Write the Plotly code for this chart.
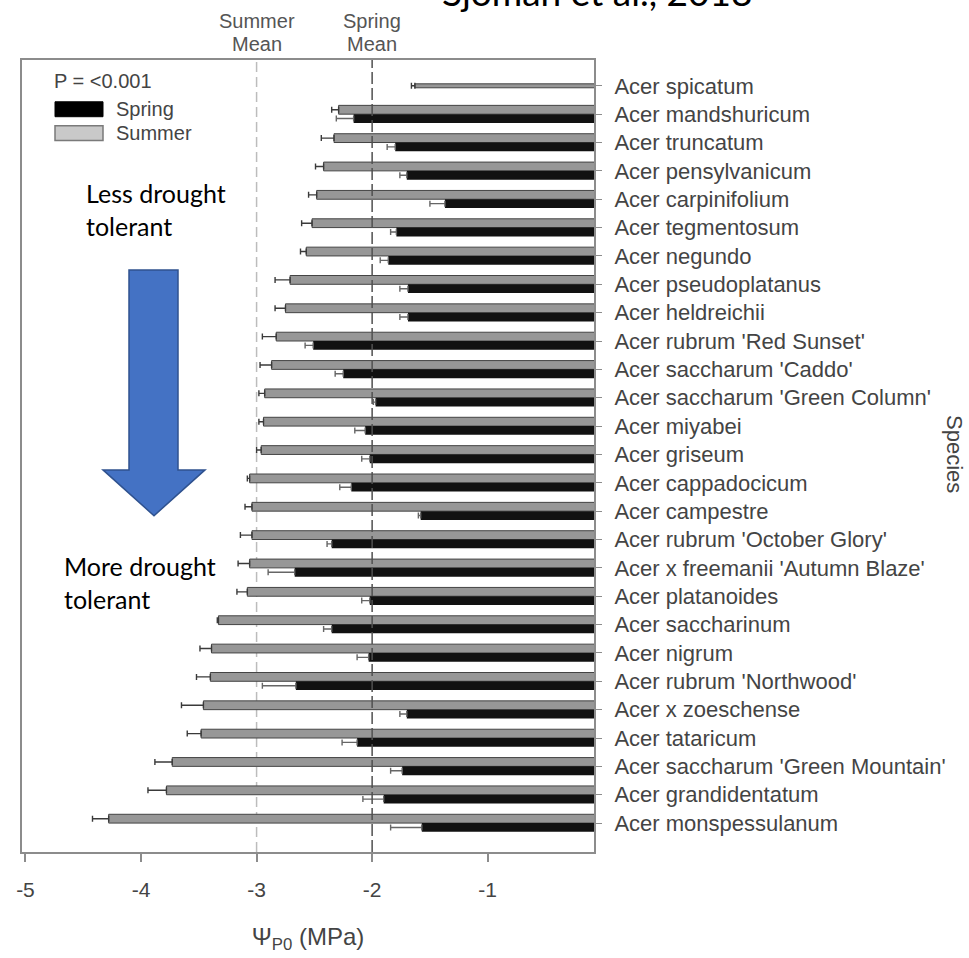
import plotly.graph_objects as go

# Turgor loss point per Acer taxon, spring and summer measurements (MPa)
species = [
    "Acer spicatum",
    "Acer mandshuricum",
    "Acer truncatum",
    "Acer pensylvanicum",
    "Acer carpinifolium",
    "Acer tegmentosum",
    "Acer negundo",
    "Acer pseudoplatanus",
    "Acer heldreichii",
    "Acer rubrum 'Red Sunset'",
    "Acer saccharum 'Caddo'",
    "Acer saccharum 'Green Column'",
    "Acer miyabei",
    "Acer griseum",
    "Acer cappadocicum",
    "Acer campestre",
    "Acer rubrum 'October Glory'",
    "Acer x freemanii 'Autumn Blaze'",
    "Acer platanoides",
    "Acer saccharinum",
    "Acer nigrum",
    "Acer rubrum 'Northwood'",
    "Acer x zoeschense",
    "Acer tataricum",
    "Acer saccharum 'Green Mountain'",
    "Acer grandidentatum",
    "Acer monspessulanum",
]

summer = [-1.63, -2.29, -2.33, -2.42, -2.48, -2.52, -2.57, -2.71, -2.75, -2.83,
          -2.87, -2.93, -2.94, -2.96, -3.06, -3.04, -3.04, -3.06, -3.08, -3.33,
          -3.39, -3.40, -3.46, -3.48, -3.73, -3.78, -4.28]
summer_err = [0.03, 0.06, 0.11, 0.07, 0.07, 0.09, 0.05, 0.13, 0.09, 0.12,
              0.10, 0.05, 0.04, 0.04, 0.02, 0.06, 0.10, 0.10, 0.09, 0.01,
              0.10, 0.12, 0.19, 0.12, 0.15, 0.16, 0.14]

spring = [None, -2.16, -1.80, -1.70, -1.37, -1.79, -1.86, -1.69, -1.69, -2.51,
          -2.25, -1.97, -2.06, -2.02, -2.18, -1.58, -2.35, -2.67, -2.02, -2.35,
          -2.03, -2.66, -1.70, -2.13, -1.74, -1.90, -1.57]
spring_err = [None, 0.15, 0.07, 0.06, 0.13, 0.05, 0.07, 0.07, 0.07, 0.07,
              0.07, 0.02, 0.09, 0.07, 0.10, 0.02, 0.04, 0.23, 0.07, 0.07,
              0.10, 0.29, 0.06, 0.13, 0.10, 0.18, 0.27]

summer_mean = -3.0
spring_mean = -2.0

x_ticks = [-5, -4, -3, -2, -1]
x_tick_labels = ["-5", "-4", "-3", "-2", "-1"]

pos = list(range(len(species)))

BAR_W = 0.31
# taxa with a single measurement get a thin bar centred on the row
summer_width = [0.14 if s is None else BAR_W for s in spring]
summer_offset = [-0.07 if s is None else -BAR_W for s in spring]

LABEL_FONT = "Liberation Sans, Arial, sans-serif"
NOTE_FONT = "Lato, Open Sans, sans-serif"
TEXT_GREY = "#444444"

fig = go.Figure()

fig.add_trace(go.Bar(
    name="Summer",
    orientation="h",
    x=summer,
    y=pos,
    width=summer_width,
    offset=summer_offset,
    marker=dict(color="#979797", line=dict(color="#444444", width=1)),
    error_x=dict(type="data", symmetric=False,
                 array=[0] * len(summer), arrayminus=summer_err,
                 color="#3a3a3a", thickness=1.4, width=3),
    showlegend=False,
))

fig.add_trace(go.Bar(
    name="Spring",
    orientation="h",
    x=spring,
    y=pos,
    width=BAR_W,
    offset=0.0,
    marker=dict(color="#111111", line=dict(width=0)),
    error_x=dict(type="data", symmetric=False,
                 array=[0] * len(spring), arrayminus=spring_err,
                 color="#666666", thickness=1.4, width=3),
    showlegend=False,
))


# paper-coordinate helpers for the plot area (22..594 px wide, 60..856 px tall)
def px(xp):
    return (xp - 22) / 572.0


def py(yp):
    return (856 - yp) / 796.0


shapes = [
    # seasonal mean reference lines
    dict(type="line", xref="x", yref="paper", x0=summer_mean, x1=summer_mean,
         y0=0, y1=1, layer="below",
         line=dict(color="#bcbcbc", width=1.5, dash="10px,5px")),
    dict(type="line", xref="x", yref="paper", x0=spring_mean, x1=spring_mean,
         y0=0, y1=1, layer="above",
         line=dict(color="#505050", width=1.5, dash="12px,4px")),
    # legend keys
    dict(type="rect", xref="paper", yref="paper",
         x0=px(55), x1=px(103), y0=py(117), y1=py(102),
         fillcolor="#000000", line=dict(color="#000000", width=1)),
    dict(type="rect", xref="paper", yref="paper",
         x0=px(55), x1=px(103), y0=py(141), y1=py(126),
         fillcolor="#c9c9c9", line=dict(color="#7a7a7a", width=1.5)),
    # block arrow: less -> more drought tolerant
    dict(type="path", xref="paper", yref="paper",
         path=(f"M {px(129)},{py(271)} L {px(178)},{py(271)} "
               f"L {px(178)},{py(472)} L {px(205)},{py(472)} "
               f"L {px(154)},{py(518)} L {px(103)},{py(472)} "
               f"L {px(129)},{py(472)} Z"),
         fillcolor="#4472C4", line=dict(color="#2F528F", width=1.5),
         layer="above"),
]

annotations = [
    dict(text="Sjöman et al., 2018", xref="paper", yref="paper",
         x=px(597), y=py(16), xanchor="center", yanchor="bottom",
         showarrow=False, font=dict(family=NOTE_FONT, size=37, color="#000000")),
    dict(text="Summer", xref="x", yref="paper", x=summer_mean, y=py(21),
         xanchor="center", yanchor="middle", showarrow=False,
         font=dict(family=LABEL_FONT, size=20, color="#555555")),
    dict(text="Mean", xref="x", yref="paper", x=summer_mean, y=py(44),
         xanchor="center", yanchor="middle", showarrow=False,
         font=dict(family=LABEL_FONT, size=20, color="#555555")),
    dict(text="Spring", xref="x", yref="paper", x=spring_mean, y=py(21),
         xanchor="center", yanchor="middle", showarrow=False,
         font=dict(family=LABEL_FONT, size=20, color="#555555")),
    dict(text="Mean", xref="x", yref="paper", x=spring_mean, y=py(44),
         xanchor="center", yanchor="middle", showarrow=False,
         font=dict(family=LABEL_FONT, size=20, color="#555555")),
    dict(text="P = <0.001", xref="paper", yref="paper", x=px(52), y=py(81),
         xanchor="left", yanchor="middle", showarrow=False,
         font=dict(family=LABEL_FONT, size=20, color=TEXT_GREY)),
    dict(text="Spring", xref="paper", yref="paper", x=px(114), y=py(109),
         xanchor="left", yanchor="middle", showarrow=False,
         font=dict(family=LABEL_FONT, size=20, color=TEXT_GREY)),
    dict(text="Summer", xref="paper", yref="paper", x=px(114), y=py(133),
         xanchor="left", yanchor="middle", showarrow=False,
         font=dict(family=LABEL_FONT, size=20, color=TEXT_GREY)),
    dict(text="Less drought<br>tolerant", xref="paper", yref="paper",
         x=px(84), y=py(210), xanchor="left", yanchor="middle", align="left",
         showarrow=False, font=dict(family=NOTE_FONT, size=25, color="#000000")),
    dict(text="More drought<br>tolerant", xref="paper", yref="paper",
         x=px(62), y=py(585), xanchor="left", yanchor="middle", align="left",
         showarrow=False, font=dict(family=NOTE_FONT, size=25, color="#000000")),
    dict(text="Species", xref="paper", yref="paper", x=px(955), y=py(456),
         xanchor="center", yanchor="middle", textangle=90, showarrow=False,
         font=dict(family=LABEL_FONT, size=22, color=TEXT_GREY)),
]

fig.update_layout(
    width=969,
    height=958,
    margin=dict(l=22, r=375, t=60, b=102, pad=0),
    paper_bgcolor="white",
    plot_bgcolor="white",
    barmode="overlay",
    showlegend=False,
    shapes=shapes,
    annotations=annotations,
    xaxis=dict(
        range=[-5.03, -0.08],
        tickvals=x_ticks,
        ticktext=x_tick_labels,
        ticks="outside",
        ticklen=8,
        tickwidth=1.5,
        tickcolor="#8c8c8c",
        showline=True,
        mirror=True,
        linecolor="#8c8c8c",
        linewidth=2,
        showgrid=False,
        zeroline=False,
        ticklabelstandoff=10,
        tickfont=dict(family=LABEL_FONT, size=21, color=TEXT_GREY),
        title=dict(text="Ψ<sub>P0</sub> (MPa)", standoff=28,
                   font=dict(family=LABEL_FONT, size=24, color=TEXT_GREY)),
    ),
    yaxis=dict(
        range=[len(species) - 1 + 1.02, -0.91],
        tickvals=pos,
        ticktext=species,
        side="right",
        ticks="outside",
        ticklen=6,
        tickwidth=1.2,
        tickcolor="#8c8c8c",
        showline=True,
        mirror=True,
        linecolor="#8c8c8c",
        linewidth=2,
        showgrid=False,
        zeroline=False,
        ticklabelstandoff=8,
        tickfont=dict(family=LABEL_FONT, size=22, color=TEXT_GREY),
    ),
)

fig.write_html("out.html")
